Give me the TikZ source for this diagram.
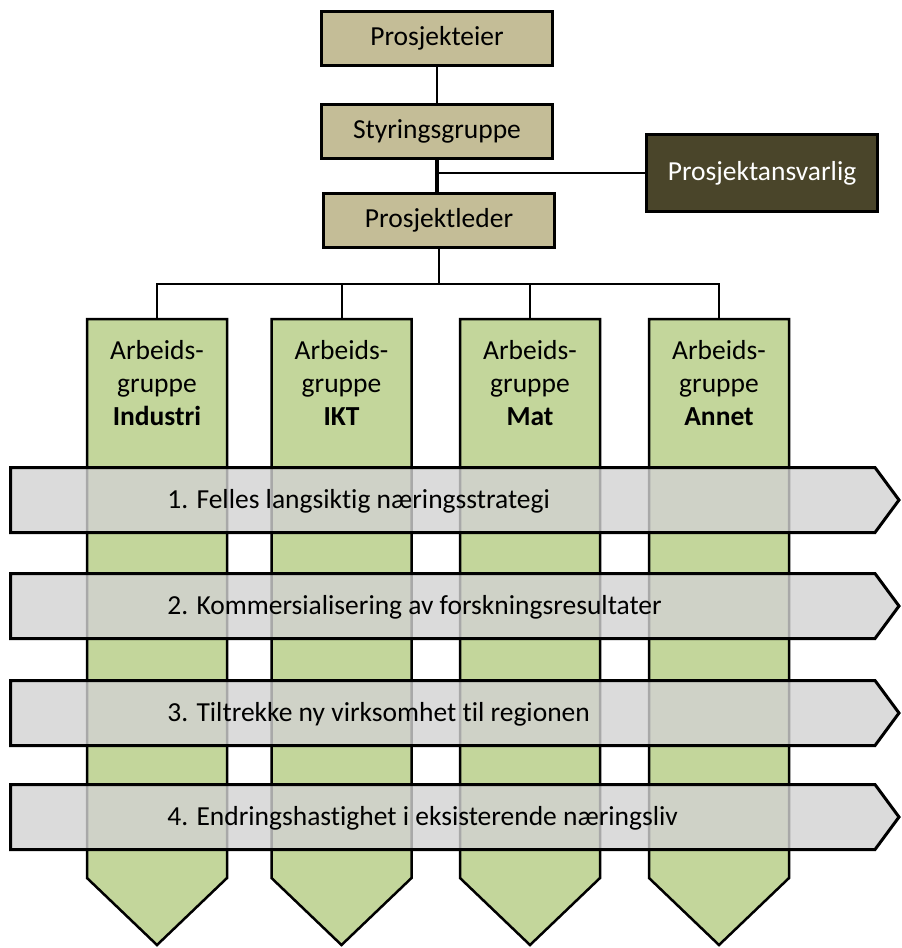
\documentclass[tikz,border=0pt]{standalone}
\usepackage{fontspec}
\setmainfont{Carlito}[Ligatures=NoCommon]
\usepackage{tikz,xcolor}
\usetikzlibrary{calc}
\definecolor{tan}{HTML}{C4BD97}
\definecolor{morkbrun}{HTML}{4A452A}
\definecolor{gronn}{HTML}{C3D69B}
\definecolor{gra}{HTML}{D2D2D2}

\begin{document}
\begin{tikzpicture}[x=0.5pt,y=-0.5pt,
        every node/.style={font=\fontsize{13.75}{16.5}\selectfont},
        boks/.style={draw,line width=1.5pt,fill=tan,minimum width=115.5pt,minimum height=27pt,inner sep=0pt},
        ansvar/.style={draw,line width=1.5pt,fill=morkbrun,text=white,minimum width=115.5pt,minimum height=38.5pt,inner sep=0pt},
        linje/.style={line width=1pt},
        tykk/.style={line width=1.6pt},
        kolonne/.style={draw,line width=1.25pt,fill=gronn},
        koltekst/.style={anchor=north,align=center,inner xsep=0pt,inner ysep=10.5pt},
        banner/.style={draw,line width=1.5pt,fill=gra,fill opacity=0.8},
        bannertekst/.style={anchor=base west,inner sep=0pt}]
            \useasboundingbox (0,0) rectangle (901,948);
            % ledelse
            \node[boks] (eier) at (437,38.5) {Prosjekteier};
            \node[boks] (styr) at (437,131) {Styringsgruppe};
            \node[boks] (leder) at (439,220.5) {Prosjektleder};
            \node[ansvar] (ansv) at (762,173) {Prosjektansvarlig};
            \draw[linje] (eier) -- (styr);
            \draw[tykk] (styr.south) -- (styr.south |- leder.north);
            \draw[linje] (ansv.west) -- (ansv.west -| styr.south);
            \coordinate (buss) at (439,284);
            \draw[linje] (leder.south) -- (buss);
            % arbeidsgrupper
            \draw[kolonne] (87,319) -- (227,319) -- (227,878) -- (157,945) -- (87,878) -- cycle;
            \draw[kolonne] (271.5,319) -- (411.5,319) -- (411.5,878) -- (341.5,945) -- (271.5,878) -- cycle;
            \draw[kolonne] (460,319) -- (600,319) -- (600,878) -- (530,945) -- (460,878) -- cycle;
            \draw[kolonne] (649,319) -- (789,319) -- (789,878) -- (719,945) -- (649,878) -- cycle;
            \node[koltekst] (gInd) at (157,319) {Arbeids-\\gruppe\\\textbf{Industri}};
            \node[koltekst] (gIkt) at (341.5,319) {Arbeids-\\gruppe\\\textbf{IKT}};
            \node[koltekst] (gMat) at (530,319) {Arbeids-\\gruppe\\\textbf{Mat}};
            \node[koltekst] (gAnn) at (719,319) {Arbeids-\\gruppe\\\textbf{Annet}};
            \draw[linje] (gInd.north) |- (buss);
            \draw[linje] (gIkt.north) |- (buss);
            \draw[linje] (gMat.north) |- (buss);
            \draw[linje] (gAnn.north) |- (buss);
            % satsinger
            \draw[banner] (10.5,467.5) -- (875,467.5) -- (899,500) -- (875,532.5) -- (10.5,532.5) -- cycle;
            \draw[banner] (10.5,573.5) -- (875,573.5) -- (899,606) -- (875,638.5) -- (10.5,638.5) -- cycle;
            \draw[banner] (10.5,680.5) -- (875,680.5) -- (899,713) -- (875,745.5) -- (10.5,745.5) -- cycle;
            \draw[banner] (10.5,784.5) -- (875,784.5) -- (899,817) -- (875,849.5) -- (10.5,849.5) -- cycle;
            \node[bannertekst] (s1) at (167,508) {1. Felles langsiktig næringsstrategi};
            \node[bannertekst] (s2) at (167,614) {2. Kommersialisering av forskningsresultater};
            \node[bannertekst] (s3) at (167,721) {3. Tiltrekke ny virksomhet til regionen};
            \node[bannertekst] (s4) at (167,825) {4. Endringshastighet i eksisterende næringsliv};
        \end{tikzpicture}
\end{document}
